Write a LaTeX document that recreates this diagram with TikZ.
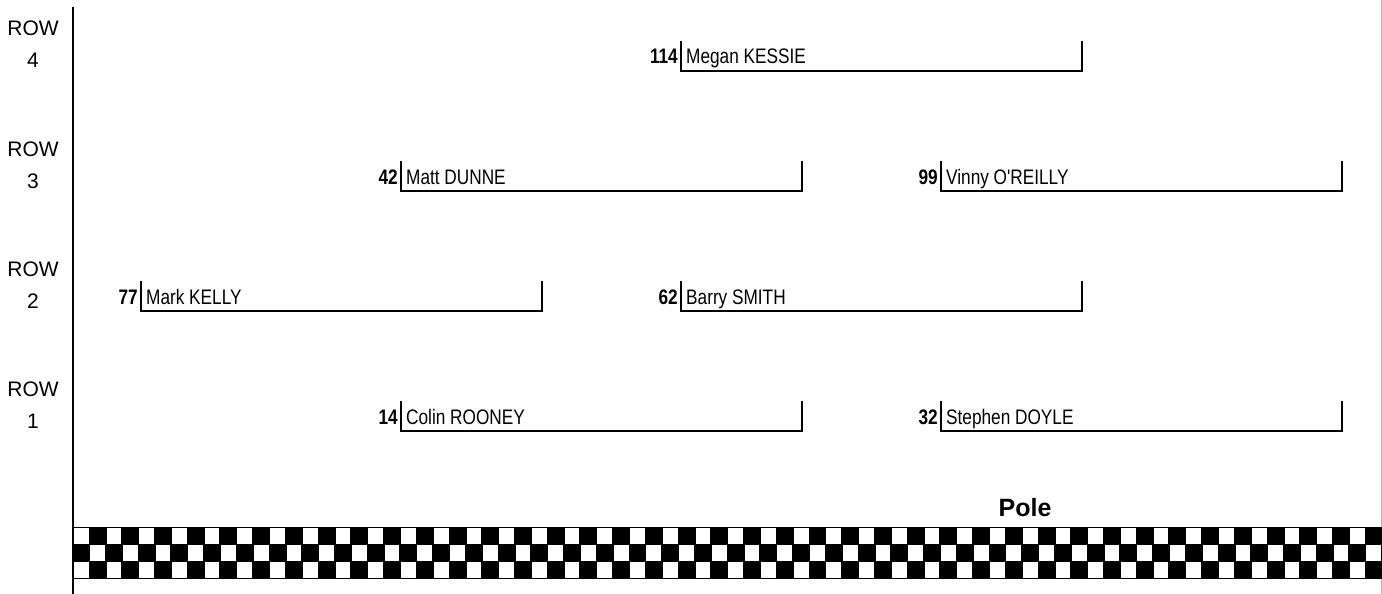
\documentclass[tikz,border=0pt]{standalone}
\usepackage{fontspec}
\setmainfont{Liberation Sans}
\newfontfamily\narrowfont[FakeStretch=0.82]{Liberation Sans}
\usetikzlibrary{positioning}

\begin{document}
\begin{tikzpicture}[
    x=1pt, y=-1pt,
    row label/.style={font=\fontsize{21}{25}\selectfont, anchor=base, inner sep=0pt},
    car number/.style={font=\narrowfont\bfseries\fontsize{21}{25}\selectfont, anchor=base east, inner sep=0pt},
    driver name/.style={font=\narrowfont\fontsize{21}{25}\selectfont, anchor=base west, inner sep=0pt},
    slot line/.style={line width=1.6pt}
  ]
  \useasboundingbox (0,0) rectangle (1382,594);

  % axis and page edge
  \coordinate (axis_top) at (73, 7);
  \coordinate (axis_bot) at (73, 594);
  \coordinate (edge_top) at (1381, 0);
  \coordinate (edge_bot) at (1381, 594);
  \draw[line width=1.5pt] (axis_top) -- (axis_bot);
  \draw[gray!55, line width=0.8pt] (edge_top) -- (edge_bot);

  % row labels
  \foreach \r/\k in {4/0, 3/1, 2/2, 1/3} {
    \node[row label] (row_\r) at (33, 36+120*\k) {ROW};
    \node[row label] (rownum_\r) at (33, 68+120*\k) {\r};
  }

  % grid slots
  \foreach \num/\driver/\sx/\k in {114/Megan KESSIE/681/0, 42/Matt DUNNE/401/1,
      99/Vinny O'REILLY/941/1, 77/Mark KELLY/141/2, 62/Barry SMITH/681/2,
      14/Colin ROONEY/401/3, 32/Stephen DOYLE/941/3} {
    \coordinate (slot_\num_tl) at (\sx, 41+120*\k);
    \coordinate (slot_\num_bl) at (\sx, 71+120*\k);
    \coordinate (slot_\num_br) at (\sx+401, 71+120*\k);
    \coordinate (slot_\num_tr) at (\sx+401, 41+120*\k);
    \draw[slot line] (slot_\num_tl) -- (slot_\num_bl) -- (slot_\num_br) -- (slot_\num_tr);
    \node[car number] (num_\num) at (\sx-3, 64+120*\k) {\num};
    \node[driver name] (name_\num) at (\sx+5, 64+120*\k) {\driver};
  }

  % pole label
  \node[font=\bfseries\fontsize{25}{30}\selectfont, inner sep=0pt] (pole) at (1025, 508) {Pole};

  % chequered band
  \fill[black] (73, 527) rectangle (1382, 579);
  \foreach \c in {0,2,...,78} {
    \fill[white] (73.8+16.3625*\c, 527.8) rectangle ++(14.76, 15.73);
    \fill[white] (73.8+16.3625*\c, 562.47) rectangle ++(14.76, 15.73);
    \fill[white] (73.8+16.3625*\c+16.3625, 545.13) rectangle ++(14.76, 15.73);
  }

\end{tikzpicture}
\end{document}
